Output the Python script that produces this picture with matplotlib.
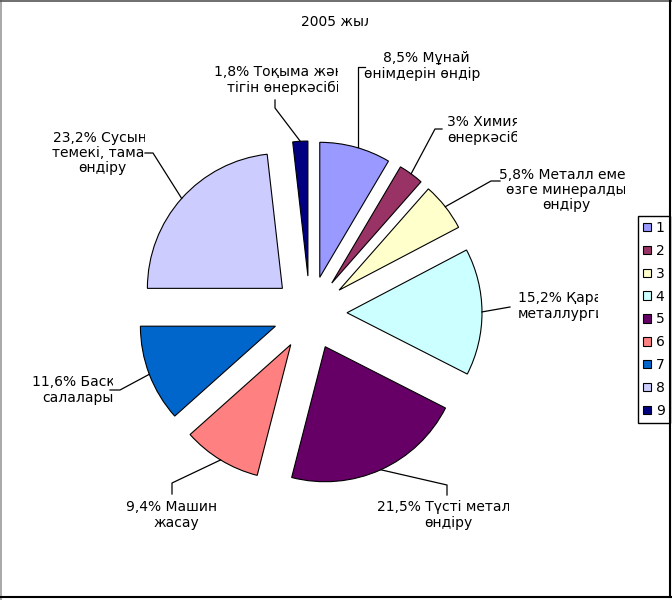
import numpy as np
import matplotlib
matplotlib.use('Agg')
import matplotlib.pyplot as plt
from matplotlib.transforms import Bbox, TransformedBbox
from matplotlib.lines import Line2D

# shares of industry, 2005 (clockwise from the top)
shares = [8.5, 3, 5.8, 15.2, 21.5, 9.4, 11.6, 23.2, 1.8]
legend_labels = ['1', '2', '3', '4', '5', '6', '7', '8', '9']
slice_labels = [
    "8,5% Мұнай\nөнімдерін өндіру",
    "3% Химия\nөнеркәсібі",
    "5,8% Металл емес\nөзге минералды\nөндіру",
    "15,2% Қара\nметаллургия",
    "21,5% Түсті металл\nөндіру",
    "9,4% Машина\nжасау",
    "11,6% Басқа\nсалалары",
    "23,2% Сусын,\nтемекі, тамақ\nөндіру",
    "1,8% Тоқыма және\nтігін өнеркәсібі",
]
colors = ['#9999FF', '#993366', '#FFFFCC', '#CCFFFF', '#660066',
          '#FF8080', '#0066CC', '#CCCCFF', '#000080']

W, H = 672, 600
plt.rcParams['font.family'] = ['DejaVu Sans']
fig = plt.figure(figsize=(W / 100, H / 100), dpi=100)
ax = fig.add_axes([0, 0, 1, 1])

# pixel-like data space, y pointing down
wedges, _ = ax.pie(shares, colors=colors, center=(310, 313), radius=135,
                   explode=[37] * len(shares), startangle=-90, counterclock=True,
                   frame=True, wedgeprops=dict(edgecolor='black', linewidth=0.8))
ax.set_xlim(0, W)
ax.set_ylim(H, 0)
ax.axis('off')

# label layout: (x, y, ha, clip right edge), elbow points of leader lines
label_pos = [
    (426, 66, 'center', 481),
    (447, 130, 'left', 517),
    (566, 190, 'center', 625),
    (518, 306, 'left', 598),
    (448, 515, 'center', 509),
    (176, 515, 'center', 216),
    (78, 390, 'center', 113),
    (102, 153, 'center', 145),
    (283, 80, 'center', 338),
]
elbows = [
    [(358, 67), (365, 67)],
    [(435, 129), (442, 129)],
    [(491, 181), (500, 181)],
    [(510, 307)],
    [(447, 485), (447, 495)],
    [(172, 483), (172, 494)],
    [(120, 390), (110, 390)],
    [(153, 153), (145, 153)],
    [(275, 108), (275, 100)],
]


def clip_right(t, xr):
    t.set_clip_on(True)
    t.set_clip_box(TransformedBbox(Bbox([[0, 0], [xr / W, 1]]), fig.transFigure))


for w, lab, (lx, ly, ha, xr), el in zip(wedges, slice_labels, label_pos, elbows):
    tm = np.deg2rad((w.theta1 + w.theta2) / 2)
    cx, cy = w.center
    px, py = cx + w.r * np.cos(tm), cy + w.r * np.sin(tm)
    if el[0][0] == 358:
        # vertical leader for the first slice
        px = el[0][0]
    xs = [px] + [p[0] for p in el]
    ys = [py] + [p[1] for p in el]
    ax.add_line(Line2D(xs, ys, color='black', linewidth=0.9))
    t = ax.text(lx, ly, lab, ha=ha, va='center', multialignment=ha,
                fontsize=10, linespacing=1.12, color='black')
    clip_right(t, xr)

title = ax.text(337, 22, "2005 жыл", ha='center', va='center', fontsize=10)
clip_right(title, 368)

leg = ax.legend(wedges, legend_labels, loc='upper right',
                bbox_to_anchor=(669.5 / W, 1 - 216 / H), bbox_transform=fig.transFigure,
                borderaxespad=0, fancybox=False, framealpha=1, edgecolor='black',
                fontsize=10, handlelength=0.55, handleheight=0.55, handletextpad=0.35,
                labelspacing=0.64, borderpad=0.35)
leg.get_frame().set_linewidth(1.0)

# outer frame of the picture
fig.add_artist(Line2D([0.5 / W, 0.5 / W], [0, 1], color='#999999', linewidth=1.2, transform=fig.transFigure))
fig.add_artist(Line2D([0, 1], [1 - 0.5 / H, 1 - 0.5 / H], color='#555555', linewidth=1.2, transform=fig.transFigure))
fig.add_artist(Line2D([670 / W, 670 / W], [3 / H, 1], color='black', linewidth=1.5, transform=fig.transFigure))
fig.add_artist(Line2D([0, 671 / W], [3 / H, 3 / H], color='black', linewidth=1.5, transform=fig.transFigure))

fig.savefig('out.png', dpi=100)
